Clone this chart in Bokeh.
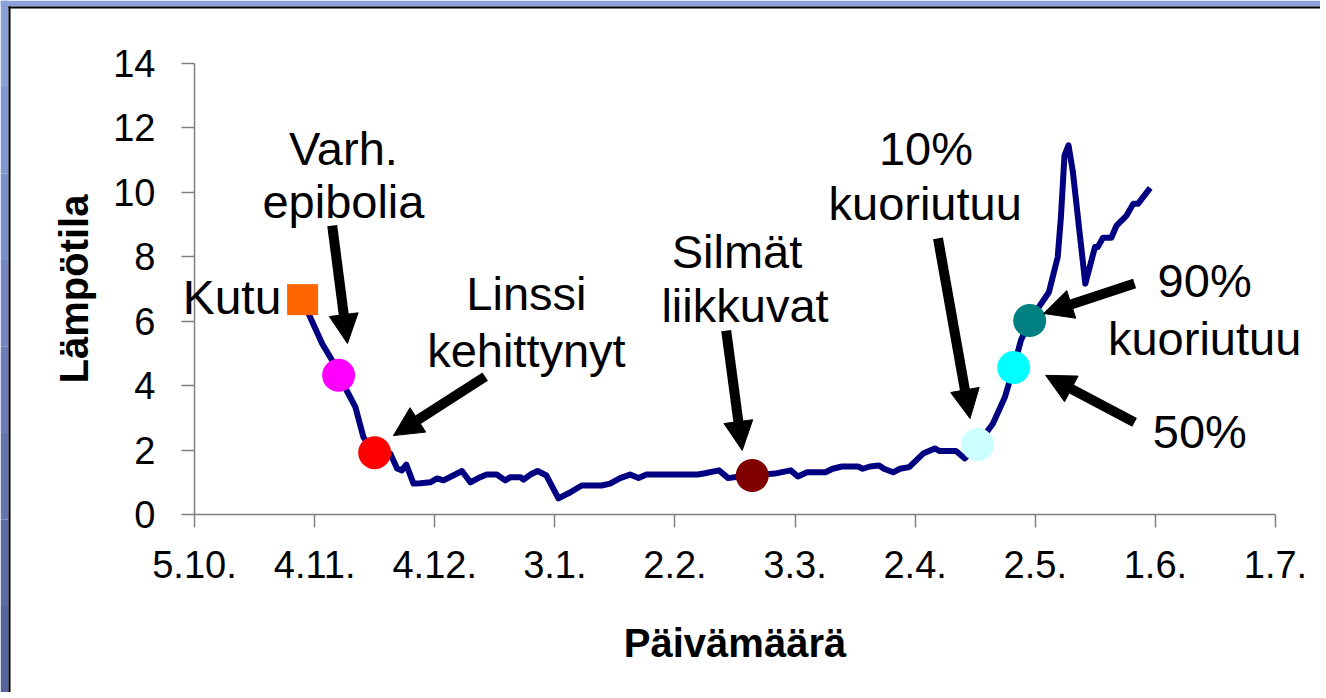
from bokeh.plotting import figure
from bokeh.models import Range1d, FixedTicker, Arrow, NormalHead, Label, BoxAnnotation
from bokeh.embed import file_html
from bokeh.resources import INLINE

# ---- data (x = days since 5.10.) ----
tick_days = [0, 30, 60, 90, 120, 150, 180, 210, 240, 270]
tick_labels = ["5.10.", "4.11.", "4.12.", "3.1.", "2.2.", "3.3.", "2.4.", "2.5.", "1.6.", "1.7."]
y_ticks = [0, 2, 4, 6, 8, 10, 12, 14]

day = [27, 28.7, 31.9, 34.4, 36, 38.9, 40.2, 42.2, 45, 48.9, 50.6, 51.8, 52.9, 54.7,
       56.4, 58.9, 60.6, 62.2, 65.1, 66.8, 68.9, 70.9, 73.0, 75.5, 77.6, 78.9, 81.4,
       82.2, 83.9, 85.7, 87.9, 90.9, 93.9, 96.7, 101.7, 103.8, 106.3, 108.8, 110.9,
       112.9, 125.7, 127.5, 131, 133.3, 136.2, 139.3, 144.9, 148.9, 150.7, 153, 157.6,
       159.4, 161.7, 165.7, 166.9, 168.7, 171, 172.2, 174.5, 176.2, 178.5, 182, 184.9,
       186.1, 190.2, 192.4, 195.6, 199.4, 202.4, 204.6, 206.4, 208.6, 213.4, 215.6,
       216.4, 217.3, 218.3, 219.4, 221.1, 222.5, 223.6, 224.9, 225.6, 226.9, 229,
       230.3, 232.8, 234.5, 235.7, 238.7]
temp = [6.6, 6.18, 5.3, 4.78, 4.32, 3.64, 3.33, 2.4, 1.92, 1.89, 1.43, 1.37, 1.55, 0.96,
        0.97, 1.0, 1.12, 1.06, 1.24, 1.35, 1.0, 1.13, 1.24, 1.24, 1.06, 1.16, 1.16,
        1.08, 1.24, 1.35, 1.21, 0.5, 0.69, 0.9, 0.9, 0.96, 1.13, 1.24, 1.13,
        1.24, 1.24, 1.28, 1.37, 1.13, 1.18, 1.21, 1.27, 1.37, 1.18, 1.31, 1.31,
        1.42, 1.49, 1.49, 1.42, 1.49, 1.52, 1.42, 1.31, 1.42, 1.47, 1.89, 2.05,
        1.97, 1.97, 1.74, 2.17, 2.82, 3.64, 4.56, 5.4, 6.02, 6.9, 7.99,
        9.23, 11.15, 11.46, 10.63, 8.72, 7.16, 7.68, 8.3, 8.3, 8.59, 8.59,
        8.97, 9.28, 9.65, 9.65, 10.14]

stage_day = [36, 45, 139.3, 195.6, 204.6, 208.6]
stage_temp = [4.32, 1.92, 1.21, 2.17, 4.56, 6.02]
stage_color = ["#FF00FF", "#FF0000", "#800000", "#CCFFFF", "#00FFFF", "#008080"]

kutu_day = [27]
kutu_temp = [6.67]

# annotation texts: (text, x, baseline y)
notes = [
    ("Varh.", 37.2, 11.36), ("epibolia", 37.2, 9.72),
    ("Linssi", 82.9, 6.86), ("kehittynyt", 82.9, 5.09),
    ("Silmät", 135.5, 8.17), ("liikkuvat", 137.5, 6.49),
    ("10%", 182.7, 11.36), ("kuoriutuu", 182.5, 9.66),
    ("90%", 252.3, 7.27), ("kuoriutuu", 252.3, 5.47),
    ("50%", 251.1, 2.58),
]
kutu_note = ("Kutu", 21.7, 6.74)
# arrows: (x_start, y_start, x_end, y_end)
arrows = [
    (34.4, 8.97, 38.2, 5.31),
    (72.6, 4.28, 49.7, 2.45),
    (132.8, 5.71, 136.8, 1.99),
    (185.7, 8.57, 193.7, 2.98),
    (234.8, 7.17, 212.1, 6.24),
    (234.8, 2.86, 212.6, 4.32),
]

FONT = "Liberation Sans"

# ---- layout: plot area of the slide chart in pixels ----
W, H = 1320, 692
X0_PX, X1_PX = 194, 1275     # day 0 / day 270
Y0_PX, Y1_PX = 514, 63       # 0 / 14
sx = (X1_PX - X0_PX) / 270.0
sy = (Y0_PX - Y1_PX) / 14.0
def dx(px):
    return (px - X0_PX) / sx
def dy(py):
    return (Y0_PX - py) / sy

p = figure(width=W, height=H, x_range=Range1d(dx(0), dx(W)), y_range=Range1d(dy(H), dy(0)),
           output_backend="svg", toolbar_location=None,
           min_border_left=0, min_border_right=0, min_border_top=0, min_border_bottom=0)
p.title.visible = False
p.grid.visible = False
p.outline_line_color = None
p.background_fill_color = "white"
p.border_fill_color = "white"

for ax in (p.xaxis, p.yaxis):
    ax.axis_line_color = "#808080"
    ax.axis_line_width = 1.5
    ax.major_tick_line_color = "#808080"
    ax.major_tick_line_width = 1.5
    ax.major_tick_in = 0
    ax.major_tick_out = 13
    ax.minor_tick_line_color = None
    ax.major_label_text_font = FONT
    ax.major_label_text_font_size = "38px"
    ax.major_label_text_color = "black"
    ax.axis_label_text_font = FONT
    ax.axis_label_text_font_size = "40px"
    ax.axis_label_text_font_style = "bold"
    ax.axis_label_text_color = "black"

p.xaxis.fixed_location = 0
p.yaxis.fixed_location = 0
p.xaxis.bounds = (0, 270)
p.yaxis.bounds = (0, 14)
p.xaxis.ticker = FixedTicker(ticks=tick_days)
p.xaxis.major_label_overrides = {d: l for d, l in zip(tick_days, tick_labels)}
p.yaxis.ticker = FixedTicker(ticks=y_ticks)
p.xaxis.axis_label = "Päivämäärä"
p.yaxis.axis_label = "Lämpötila"
p.xaxis.major_label_standoff = 23
p.yaxis.major_label_standoff = 26
p.xaxis.axis_label_standoff = 40
p.yaxis.axis_label_standoff = 14

# slide background strips (left and top) with black edge
left_cols = ["#8ba0d9", "#8398d2", "#7b8fca", "#7386c1", "#6b7db8", "#6374ae", "#5b6ba4", "#54639b"]
n = len(left_cols)
for i, c in enumerate(left_cols):
    p.add_layout(BoxAnnotation(left=dx(0), right=dx(8), top=dy(H * i / n), bottom=dy(H * (i + 1) / n),
                               fill_color=c, fill_alpha=1, line_color=None))
p.add_layout(BoxAnnotation(left=dx(0), right=dx(W), top=dy(0), bottom=dy(6),
                           fill_color="#8ba0d9", fill_alpha=1, line_color=None))
p.add_layout(BoxAnnotation(left=dx(8), right=dx(10), top=dy(6), bottom=dy(H),
                           fill_color="black", fill_alpha=1, line_color=None))
p.add_layout(BoxAnnotation(left=dx(8), right=dx(W), top=dy(6), bottom=dy(8),
                           fill_color="black", fill_alpha=1, line_color=None))

p.line(day, temp, line_color="#000080", line_width=6, line_join="round")
p.scatter(kutu_day, kutu_temp, marker="square", size=31, fill_color="#FF6600", line_color=None)
p.scatter(stage_day, stage_temp, marker="circle", size=33, fill_color=stage_color, line_color=None)

for xs, ys, xe, ye in arrows:
    p.add_layout(Arrow(end=NormalHead(size=29, fill_color="black", line_color="black"),
                       x_start=xs, y_start=ys, x_end=xe, y_end=ye,
                       line_width=10, line_color="black"))

for txt, x, y in notes:
    p.add_layout(Label(x=x, y=y, text=txt, text_font=FONT, text_font_size="47px",
                       text_align="center", text_baseline="alphabetic", text_color="black"))
p.add_layout(Label(x=kutu_note[1], y=kutu_note[2], text=kutu_note[0], text_font=FONT,
                   text_font_size="48px", text_align="right", text_baseline="alphabetic",
                   text_color="black"))

open("out.html", "w").write(file_html(p, INLINE))
